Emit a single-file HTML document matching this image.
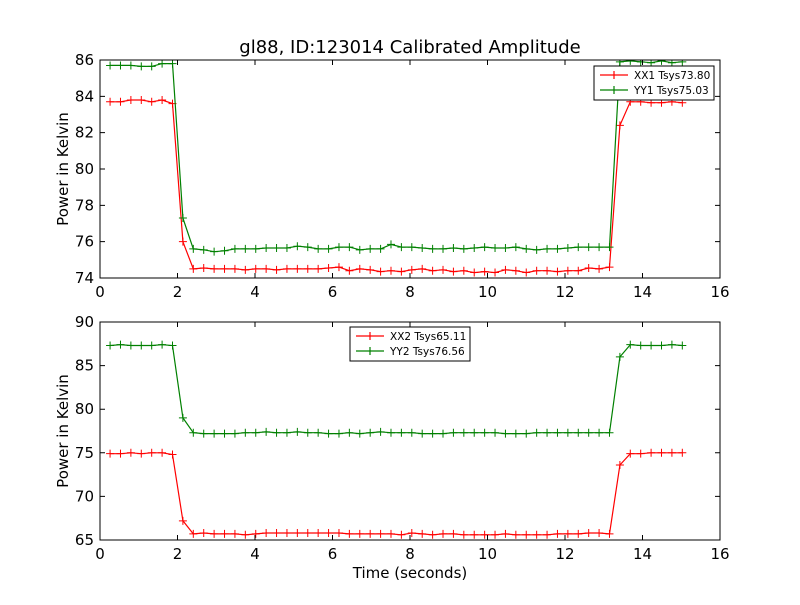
<!DOCTYPE html>
<html><head><meta charset="utf-8"><style>
body{margin:0;background:#fff;font-family:"Liberation Sans","DejaVu Sans",sans-serif}
svg text{font-family:"DejaVu Sans","Liberation Sans",sans-serif}
</style></head><body>
<svg id="c" width="800" height="600" xmlns="http://www.w3.org/2000/svg">
<rect width="800" height="600" fill="#fff"/>
<text x="410" y="53" font-size="18" text-anchor="middle">gl88, ID:123014 Calibrated Amplitude</text>
<text x="410" y="578" font-size="15" text-anchor="middle">Time (seconds)</text>
</svg>
<script>
const xx1=[83.7,83.7,83.8,83.8,83.7,83.8,83.6,76.0,74.5,74.55,74.5,74.5,74.5,74.45,74.5,74.5,74.45,74.5,74.5,74.5,74.5,74.55,74.6,74.4,74.5,74.45,74.35,74.4,74.35,74.45,74.5,74.4,74.45,74.35,74.4,74.3,74.35,74.3,74.45,74.4,74.3,74.4,74.4,74.35,74.4,74.4,74.55,74.5,74.6,82.4,83.7,83.7,83.65,83.65,83.7,83.65];
const yy1=[85.7,85.7,85.7,85.65,85.65,85.8,85.8,77.3,75.6,75.55,75.45,75.5,75.6,75.6,75.6,75.65,75.65,75.65,75.75,75.7,75.6,75.6,75.7,75.7,75.55,75.6,75.6,75.85,75.7,75.7,75.65,75.6,75.6,75.65,75.6,75.65,75.7,75.65,75.65,75.7,75.6,75.55,75.6,75.6,75.65,75.7,75.7,75.7,75.7,85.9,85.95,85.9,85.85,85.95,85.85,85.9];
const xx2=[74.9,74.9,75.0,74.9,75.0,75.0,74.8,67.2,65.7,65.8,65.7,65.7,65.7,65.6,65.7,65.8,65.8,65.8,65.8,65.8,65.8,65.8,65.8,65.7,65.7,65.7,65.7,65.7,65.6,65.8,65.7,65.6,65.7,65.7,65.6,65.6,65.6,65.6,65.7,65.6,65.6,65.6,65.6,65.7,65.7,65.7,65.8,65.8,65.7,73.6,74.9,74.9,75.0,75.0,75.0,75.0];
const yy2=[87.3,87.4,87.3,87.3,87.3,87.4,87.3,79.0,77.3,77.2,77.2,77.2,77.2,77.3,77.3,77.4,77.3,77.3,77.4,77.3,77.3,77.2,77.2,77.3,77.2,77.3,77.4,77.3,77.3,77.3,77.2,77.2,77.2,77.3,77.3,77.3,77.3,77.3,77.2,77.2,77.2,77.3,77.3,77.3,77.3,77.3,77.3,77.3,77.3,86.0,87.4,87.3,87.3,87.3,87.4,87.3];
const xTicks=[0,2,4,6,8,10,12,14,16];
const yTicks1=[74,76,78,80,82,84,86];
const yTicks2=[65,70,75,80,85,90];
const t0=0.26, dt=0.2685;
const svg=document.getElementById('c');
const NS='http://www.w3.org/2000/svg';
function mk(tag,a,p){const e=document.createElementNS(NS,tag);for(const k in a)e.setAttribute(k,a[k]);(p||svg).appendChild(e);return e;}
function panel(top,bot,ymin,ymax,yTicks,series,leg){
  const L=100,R=720;
  const sx=v=>L+(v-0)/16*(R-L);
  const sy=v=>bot-(v-ymin)/(ymax-ymin)*(bot-top);
  const g=mk('g',{});
  
  
  const clipId='cl'+top;
  const cp=mk('clipPath',{id:clipId},g);mk('rect',{x:L,y:top,width:R-L,height:bot-top},cp);
  series.forEach(s=>{
    const pts=s.data.map((v,i)=>sx(t0+i*dt).toFixed(1)+','+sy(v).toFixed(1));
    const sg=mk('g',{'clip-path':'url(#'+clipId+')'},g);
    const pl=mk('polyline',{points:pts.join(' '),fill:'none',stroke:s.color,'stroke-width':1.2},sg);
    
    
    s.data.forEach((v,i)=>{const x=sx(t0+i*dt),y=sy(v);
      mk('path',{d:`M${x-4},${y}H${x+4}M${x},${y-4}V${y+4}`,stroke:s.color,'stroke-width':1},sg);});
  });
  mk('rect',{x:L,y:top,width:R-L,height:bot-top,fill:'none',stroke:'#000','stroke-width':1},g);
  xTicks.forEach(v=>{const x=sx(v);
    mk('path',{d:`M${x},${bot}v-5M${x},${top}v5`,stroke:'#000'},g);
    const t=mk('text',{x:x,y:bot+19,'font-size':15,'text-anchor':'middle'},g);t.textContent=v;
    });
  yTicks.forEach(v=>{const y=sy(v);
    mk('path',{d:`M${L},${y}h5M${R},${y}h-5`,stroke:'#000'},g);
    const t=mk('text',{x:L-6,y:y+5,'font-size':15,'text-anchor':'end'},g);t.textContent=v;
    });
  const yt=mk('text',{x:68,y:(top+bot)/2,'font-size':15,'text-anchor':'middle',transform:`rotate(-90 68 ${(top+bot)/2})`},g);
  yt.textContent='Power in Kelvin';
  
  
  const lg=mk('g',{},g);
  
  
  mk('rect',{x:leg.x,y:leg.y,width:leg.w,height:34,fill:'#fff',stroke:'#000'},lg);
  series.forEach((s,i)=>{const y=leg.y+9+i*15;
    mk('path',{d:`M${leg.x+6},${y}h28M${leg.x+20},${y-4}v8`,stroke:s.color,'stroke-width':1.2},lg);
    const t=mk('text',{x:leg.x+40,y:y+4,'font-size':10.5},lg);t.textContent=s.label;
    });
}
panel(60,278,74,86,yTicks1,[{name:'XX1',data:xx1,color:'#ff0000',label:'XX1 Tsys73.80'},{name:'YY1',data:yy1,color:'#008000',label:'YY1 Tsys75.03'}],{x:594,y:66,w:120});
panel(322,540,65,90,yTicks2,[{name:'XX2',data:xx2,color:'#ff0000',label:'XX2 Tsys65.11'},{name:'YY2',data:yy2,color:'#008000',label:'YY2 Tsys76.56'}],{x:350,y:327,w:120});
</script>
</body></html>
